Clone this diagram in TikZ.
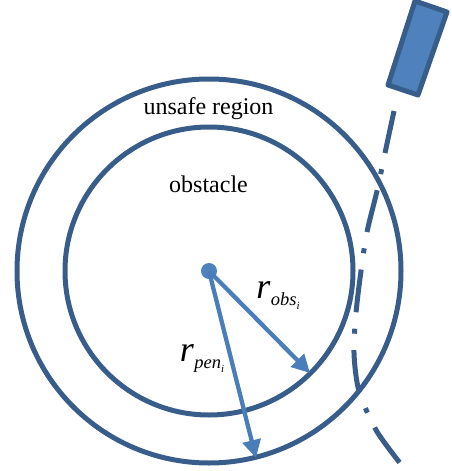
\documentclass[tikz,border=0pt]{standalone}
\usepackage{fontspec}
\setmainfont{Liberation Serif}
\usetikzlibrary{arrows.meta}
\definecolor{ringblue}{HTML}{385D8A}
\definecolor{rayblue}{HTML}{4A7EBB}
\definecolor{carblue}{HTML}{4F81BD}
\newcommand{\radlabel}[1]{\fontsize{36}{36}\selectfont\textit{r}\kern0.5pt\raisebox{-7pt}{\fontsize{18.5}{18.5}\selectfont\textit{#1}\raisebox{-4pt}{\fontsize{11}{11}\selectfont\textit{i}}}}
\tikzset{
  ring/.style={draw=ringblue,line width=5pt},
  ray/.style={draw=rayblue,line width=4.3pt,-{Triangle[length=18pt,width=18pt]}},
  regionlabel/.style={font=\fontsize{24}{24}\selectfont,inner sep=0pt},
  pathline/.style={draw=ringblue,line width=5pt,dash pattern=on 43pt off 16.5pt on 5pt off 16.5pt}
}
\begin{document}
\begin{tikzpicture}[x=1pt,y=-1pt]
\useasboundingbox (0,0) rectangle (452,471);
\draw[ring] (209,271) circle (192);
\draw[ring] (209,271) circle (144);
\draw[ring,fill=carblue,line join=round] (415,1)--(447,12)--(418,95)--(388,85)--cycle;
\draw[pathline] plot[smooth] coordinates {(394,111) (385,153) (377,191) (367,232) (361,271) (356,313) (354,353) (359,391) (376,430) (400,463)};
\node[circle,fill=carblue,inner sep=0pt,minimum size=16pt] (hub) at (209,271) {};
\coordinate (obsend) at (310,373);
\coordinate (penend) at (256,458);
\draw[ray] (hub.center)--(obsend);
\draw[ray] (hub.center)--(penend);
\node[regionlabel] (unsafe) at (208.5,109) {unsafe region};
\node[regionlabel] (obstacle) at (208.5,184) {obstacle};
\node[inner sep=0pt] (robs) at (278,296) {\radlabel{obs}};
\node[inner sep=0pt] (rpen) at (202,359) {\radlabel{pen}};
\end{tikzpicture}
\end{document}
